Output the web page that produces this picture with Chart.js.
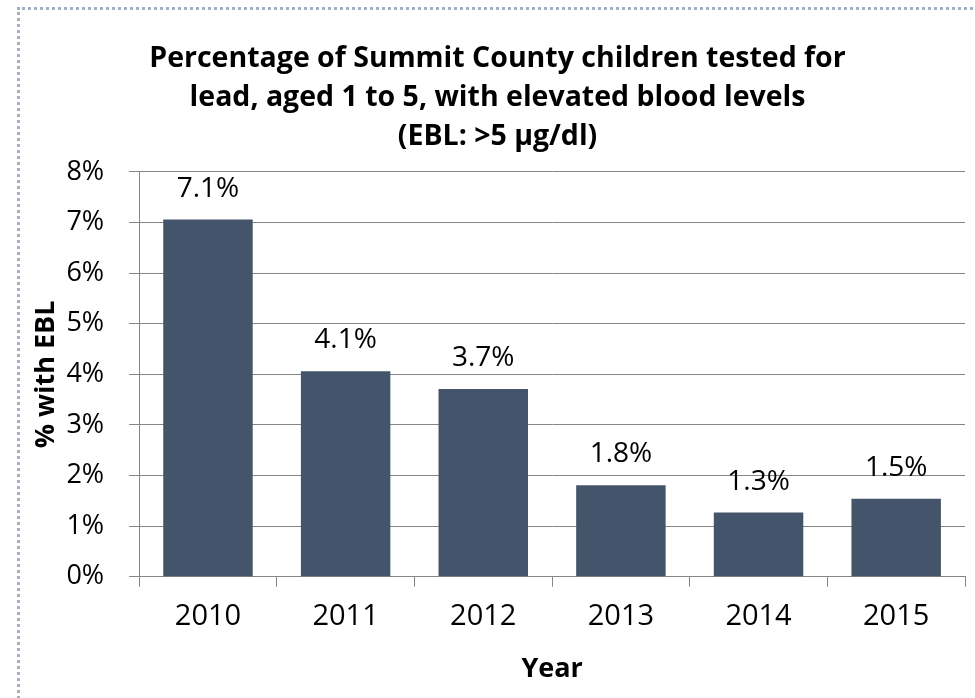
<!DOCTYPE html>
<html>
<head>
<meta charset="utf-8">
<script src="https://cdn.jsdelivr.net/npm/chart.js@4.4.1/dist/chart.umd.min.js"></script>
<style>
  html, body { margin: 0; padding: 0; background: #fff; }
  #frame {
    position: absolute; left: 17px; top: 7px; width: 970px; height: 700px;
    border-top: 3px dotted #a3b0c2; border-left: 3px dotted #a3b0c2;
  }
  #wrap { position: absolute; left: 20px; top: 10px; width: 955px; height: 688px; }
</style>
</head>
<body>
<div id="frame"></div>
<div id="wrap"><canvas id="myBarChart"></canvas></div>
<script>
const years = ['2010', '2011', '2012', '2013', '2014', '2015'];
const ebl = [7.06, 4.06, 3.71, 1.81, 1.27, 1.54];
const yTicks = [0, 1, 2, 3, 4, 5, 6, 7, 8];
const titleLines = [
  'Percentage of Summit County children tested for',
  'lead, aged 1 to 5, with elevated blood levels',
  '(EBL: >5 \u00b5g/dl)'
];

const fontFamily = '"Open Sans", sans-serif';

// value labels above each bar
const barLabels = {
  id: 'barLabels',
  afterDatasetsDraw(chart) {
    const { ctx } = chart;
    const meta = chart.getDatasetMeta(0);
    ctx.save();
    ctx.font = '28px ' + fontFamily;
    ctx.fillStyle = '#000';
    ctx.textAlign = 'center';
    ctx.textBaseline = 'alphabetic';
    meta.data.forEach((bar, i) => {
      ctx.fillText(ebl[i].toFixed(1) + '%', bar.x, bar.y - 23);
    });
    ctx.restore();
  }
};

new Chart(document.getElementById('myBarChart'), {
  type: 'bar',
  data: {
    labels: years,
    datasets: [{
      data: ebl,
      backgroundColor: '#44546A',
      borderWidth: 0,
      barPercentage: 0.65,
      categoryPercentage: 1
    }]
  },
  options: {
    responsive: true,
    maintainAspectRatio: false,
    animation: false,
    layout: { padding: { left: 10, right: 10, top: 0, bottom: 12 } },
    plugins: {
      legend: { display: false },
      tooltip: { enabled: false },
      title: {
        display: true,
        text: titleLines,
        color: '#000',
        font: { family: fontFamily, size: 28.5, weight: 'bold', lineHeight: 1.38 },
        padding: { top: 29, bottom: 15 }
      }
    },
    scales: {
      x: {
        grid: { display: true, drawOnChartArea: false, offset: true, color: '#868686', tickLength: 10 },
        border: { color: '#868686' },
        ticks: { color: '#000', font: { family: fontFamily, size: 29 }, padding: 13 },
        title: { display: true, text: 'Year', color: '#000', font: { family: fontFamily, size: 27, weight: 'bold' }, padding: { top: 6, bottom: 0 } }
      },
      y: {
        min: 0,
        max: 8,
        afterBuildTicks(axis) { axis.ticks = yTicks.map(v => ({ value: v })); },
        grid: { color: '#868686', tickLength: 10 },
        border: { color: '#868686' },
        ticks: { color: '#000', font: { family: fontFamily, size: 27 }, padding: 25, callback: v => v + '%' },
        title: { display: true, text: '% with EBL', color: '#000', font: { family: fontFamily, size: 27, weight: 'bold' }, padding: { top: 0, bottom: -21 } }
      }
    }
  },
  plugins: [barLabels]
});
</script>
</body>
</html>
